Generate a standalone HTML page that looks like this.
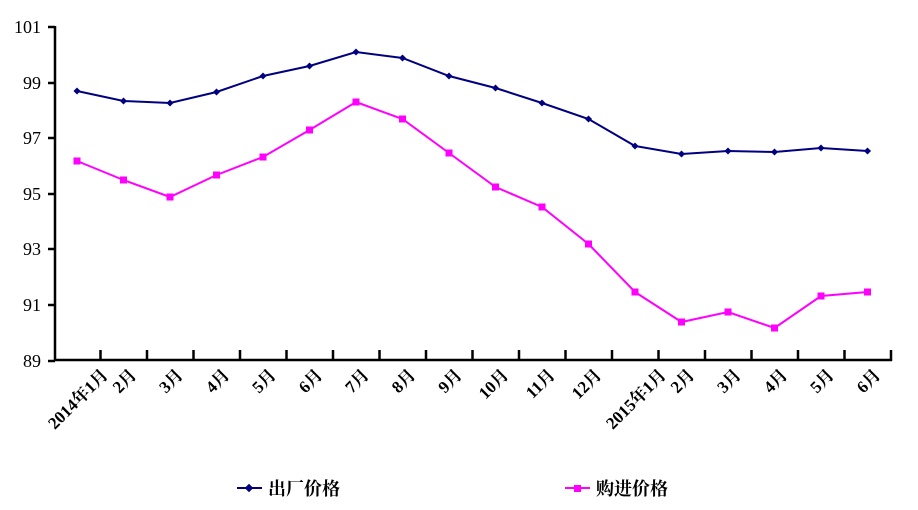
<!DOCTYPE html>
<html><head><meta charset="utf-8"><style>body{margin:0;background:#fff}svg{display:block}text{font-family:"Liberation Serif","Noto Serif CJK SC",serif;font-weight:bold;font-size:17px;fill:#000}</style></head>
<body>
<svg width="918" height="510" viewBox="0 0 918 510">
<g stroke="#000" stroke-width="2.5" fill="none">
<line x1="55" y1="26" x2="55" y2="361"/>
<line x1="54" y1="360" x2="892" y2="360"/>
</g>
<g stroke="#000" stroke-width="2.5" id="ticks"></g>
<g id="ylab"></g>
<g id="xlab"></g>
<polyline id="blue" fill="none" stroke="#000080" stroke-width="2"/>
<polyline id="pink" fill="none" stroke="#ff00ff" stroke-width="2"/>
<g id="bm" fill="#000080"></g>
<g id="pm" fill="#ff00ff"></g>
<line x1="237" y1="488" x2="262" y2="488" stroke="#000080" stroke-width="2"/>
<rect x="246" y="485" width="6" height="6" fill="#000080" transform="rotate(45 249 488)"/>
<text x="268" y="495" style="font-size:18px">出厂价格</text>
<line x1="565" y1="488" x2="590" y2="488" stroke="#ff00ff" stroke-width="2"/>
<rect x="574" y="485" width="7" height="7" fill="#ff00ff"/>
<text x="596" y="495" style="font-size:18px">购进价格</text>
<script>
var ns="http://www.w3.org/2000/svg";
function el(p,t,a,txt){var e=document.createElementNS(ns,t);for(var k in a)e.setAttribute(k,a[k]);if(txt)e.textContent=txt;document.getElementById(p).appendChild(e);}
var ys=[27,83,138,194,249,305,361],yl=["101","99","97","95","93","91","89"];
for(var i=0;i<7;i++){el("ticks","line",{x1:48,y1:ys[i],x2:55,y2:ys[i]});el("ylab","text",{x:41,y:ys[i]+6,"text-anchor":"end",style:"font-weight:normal;font-size:18px"},yl[i]);}
for(var k=1;k<=18;k++){var x=54+46.5*k;el("ticks","line",{x1:x,y1:350,x2:x,y2:361});}
var b=[91,101,103,92,76,66,52,58,76,88,103,119,146,154,151,152,148,151];
var p=[161,180,197,175,157,130,102,119,153,187,207,244,292,322,312,328,296,292];
var lab=["2014年1月","2月","3月","4月","5月","6月","7月","8月","9月","10月","11月","12月","2015年1月","2月","3月","4月","5月","6月"];
var bp="",pp="";
for(var i=0;i<18;i++){var x=77+46.5*i;bp+=x+","+b[i]+" ";pp+=x+","+p[i]+" ";
el("bm","rect",{x:x-2.5,y:b[i]-2.5,width:5,height:5,transform:"rotate(45 "+x+" "+b[i]+")"});
el("pm","rect",{x:x-3.5,y:p[i]-3.5,width:7,height:7});
var ex=(i==0||i==12)?x+32:x+14, ey=376;
el("xlab","text",{x:ex,y:ey,"text-anchor":"end",transform:"rotate(-45 "+ex+" "+ey+")"},lab[i]);}
document.getElementById("blue").setAttribute("points",bp);
document.getElementById("pink").setAttribute("points",pp);
</script>
</svg>
</body></html>
